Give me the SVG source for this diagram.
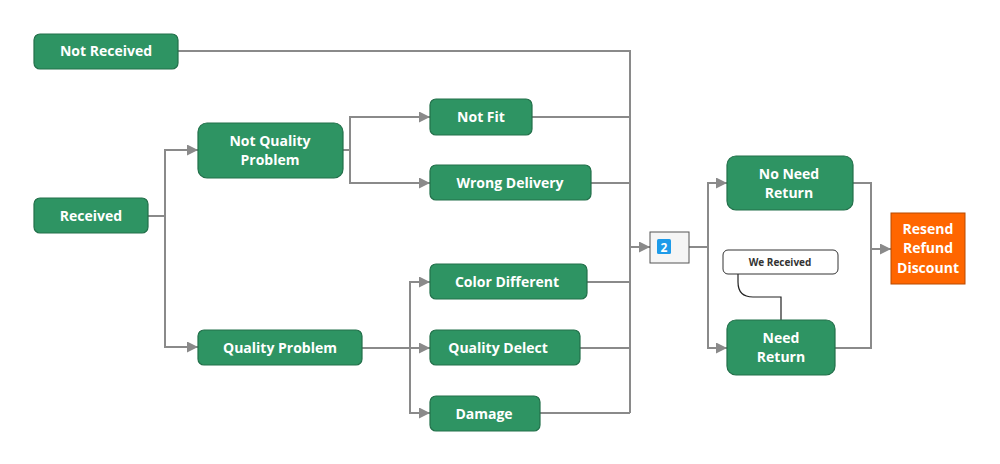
<svg xmlns="http://www.w3.org/2000/svg" width="1000" height="464" viewBox="0 0 1000 464">
<style>
.n{fill:#2E9463;stroke:#22704A;stroke-width:1.2}
.t{font-family:"Open Sans","Liberation Sans",sans-serif;font-weight:700;font-size:14px;fill:#fff;text-anchor:middle}
.c{fill:none;stroke:#8A8A8A;stroke-width:2}
</style>
<defs>
<marker id="a" viewBox="0 0 10 10" refX="10" refY="5" markerWidth="5.5" markerHeight="5.5" orient="auto" markerUnits="strokeWidth">
<path d="M0,0 L10,5 L0,10 z" fill="#8A8A8A"/>
</marker>
</defs>
<rect width="1000" height="464" fill="#fff"/>
<g id="connectors">
<path class="c" d="M178,51 H630 V413"/>
<path class="c" d="M532,117 H630"/>
<path class="c" d="M591,183 H630"/>
<path class="c" d="M587,282 H630"/>
<path class="c" d="M580,348 H630"/>
<path class="c" d="M540,413 H630"/>
<path class="c" d="M630,247 H650" marker-end="url(#a)"/>
<path class="c" d="M148,216 H165"/>
<path class="c" d="M198,150 H165 V347 H198" marker-end="url(#a)"/>
<path class="c" d="M165,150 H198" marker-end="url(#a)"/>
<path class="c" d="M343,150 H350"/>
<path class="c" d="M430,117 H350 V183 H430" marker-end="url(#a)"/>
<path class="c" d="M350,117 H430" marker-end="url(#a)"/>
<path class="c" d="M362,348 H430" marker-end="url(#a)"/>
<path class="c" d="M430,282 H410 V413 H430" marker-end="url(#a)"/>
<path class="c" d="M410,282 H430" marker-end="url(#a)"/>
<path class="c" d="M689,247 H708"/>
<path class="c" d="M727,183 H708 V348 H727" marker-end="url(#a)"/>
<path class="c" d="M708,183 H727" marker-end="url(#a)"/>
<path class="c" d="M853,183 H871 V348 H835"/>
<path class="c" d="M871,249 H891" marker-end="url(#a)"/>
<path d="M738,274 V282 Q738,297 753,297 H781 V320" fill="none" stroke="#222" stroke-width="1.2"/>
</g>
<g id="not-received"><rect class="n" x="34" y="34" width="144" height="35" rx="6"/><text class="t" x="106" y="56">Not Received</text></g>
<g id="received"><rect class="n" x="34" y="198" width="114" height="35" rx="6"/><text class="t" x="91" y="221">Received</text></g>
<g id="not-quality-problem"><rect class="n" x="198" y="123" width="145" height="55" rx="9"/><text class="t" x="270" y="146">Not Quality</text><text class="t" x="270" y="165">Problem</text></g>
<g id="quality-problem"><rect class="n" x="198" y="330" width="164" height="35" rx="6"/><text class="t" x="280" y="353">Quality Problem</text></g>
<g id="not-fit"><rect class="n" x="430" y="99" width="102" height="36" rx="6"/><text class="t" x="481" y="122">Not Fit</text></g>
<g id="wrong-delivery"><rect class="n" x="430" y="165" width="161" height="35" rx="6"/><text class="t" x="510" y="188">Wrong Delivery</text></g>
<g id="color-different"><rect class="n" x="430" y="264" width="157" height="35" rx="6"/><text class="t" x="507" y="287">Color Different</text></g>
<g id="quality-delect"><rect class="n" x="430" y="330" width="150" height="35" rx="6"/><text class="t" x="498" y="353">Quality Delect</text></g>
<g id="damage"><rect class="n" x="430" y="396" width="110" height="35" rx="6"/><text class="t" x="484" y="419">Damage</text></g>
<g id="count">
<rect x="650" y="232" width="39" height="31" fill="#F5F5F5" stroke="#555" stroke-width="1"/>
<rect x="657" y="239" width="14" height="15" rx="1.5" fill="#1E9BE9"/>
<text x="664" y="251.5" font-family="'Open Sans','Liberation Sans',sans-serif" font-weight="700" font-size="12" fill="#fff" text-anchor="middle">2</text>
</g>
<g id="no-need-return"><rect class="n" x="727" y="156" width="126" height="54" rx="9"/><text class="t" x="789" y="179">No Need</text><text class="t" x="789" y="198">Return</text></g>
<g id="need-return"><rect class="n" x="727" y="320" width="108" height="55" rx="9"/><text class="t" x="781" y="343">Need</text><text class="t" x="781" y="362">Return</text></g>
<g id="we-received"><rect x="723" y="250" width="115" height="24" rx="5" fill="#fff" stroke="#333" stroke-width="1"/><text x="780" y="266" font-family="'Open Sans','Liberation Sans',sans-serif" font-weight="700" font-size="10" fill="#333" text-anchor="middle">We Received</text></g>
<g id="resend"><rect x="891" y="213" width="74" height="71" fill="#FF6600" stroke="#B84A00" stroke-width="1"/><text class="t" x="928" y="234">Resend</text><text class="t" x="928" y="253">Refund</text><text class="t" x="928" y="273">Discount</text></g>
</svg>
